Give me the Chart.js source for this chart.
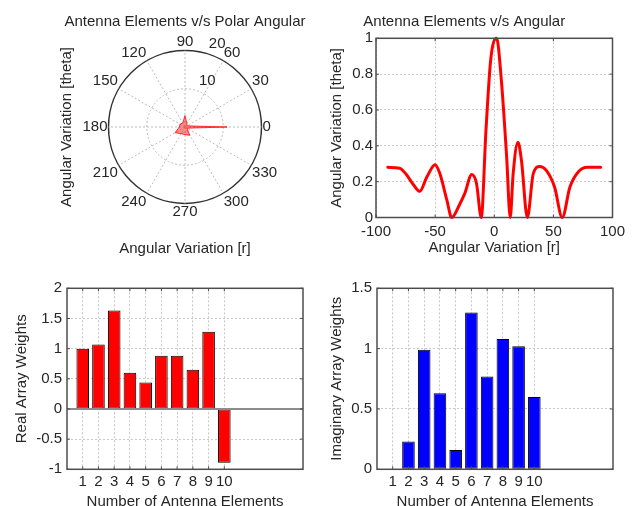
<!DOCTYPE html>
<html>
<head>
<meta charset="utf-8">
<script src="https://cdn.jsdelivr.net/npm/chart.js@4.4.0/dist/chart.umd.min.js"></script>
<style>
  body { margin: 0; background: #fff; width: 633px; height: 506px; overflow: hidden; position: relative; }
  canvas { position: absolute; }
</style>
</head>
<body>
<canvas id="polarChart" width="316" height="262" style="left:0;top:0"></canvas>
<canvas id="patternChart" width="317" height="262" style="left:316px;top:0"></canvas>
<canvas id="realChart" width="316" height="250" style="left:0;top:262px"></canvas>
<canvas id="imagChart" width="317" height="250" style="left:316px;top:262px"></canvas>
<script>
// values
var polarAngles = ['90', '60', '30', '0', '330', '300', '270', '240', '210', '180', '150', '120'];
var polarPattern = [3, 1, 0.6, 11, 0.6, 2.5, 2, 2, 3, 1.5, 1.5, 1.2];
var polarRings = [10, 20];

var angleDeg = [-90, -80, -75, -68, -63, -57, -50, -46, -40, -36, -29, -25, -19, -15, -11, -7, -3, 2, 6, 10.5,
                13.5, 16, 20, 23, 28, 33, 38.5, 44, 51, 57.5, 64, 71, 79, 90];
var patternGain = [0.28, 0.275, 0.245, 0.18, 0.146, 0.226, 0.295, 0.245, 0.095, 0.0, 0.077, 0.133, 0.24, 0.19, 0.0, 0.487, 0.88, 1.0, 0.767, 0.337,
                   0.0, 0.245, 0.42, 0.319, 0.0, 0.245, 0.285, 0.263, 0.17, 0.0, 0.17, 0.254, 0.28, 0.28];

var elements = [1, 2, 3, 4, 5, 6, 7, 8, 9, 10];
var realWeights = [1.0, 1.07, 1.63, 0.6, 0.44, 0.88, 0.88, 0.65, 1.28, -0.89];
var imagWeights = [0, 0.23, 0.99, 0.63, 0.16, 1.3, 0.77, 1.08, 1.02, 0.6];

var FONT = "'Liberation Sans', Arial, Helvetica, sans-serif";
Chart.defaults.font.family = FONT;
Chart.defaults.font.size = 15;
Chart.defaults.color = '#262626';
Chart.defaults.animation = false;
Chart.defaults.responsive = false;
Chart.defaults.plugins.legend.display = false;
Chart.defaults.plugins.tooltip.enabled = false;

function shortNum(v) { return String(Math.round(v * 10) / 10); }

// matlab style box round the axes, with small inward ticks
var frame = {
  id: 'frame',
  afterDatasetsDraw: function(chart, args, opts) {
    var a = chart.chartArea, c = chart.ctx, xs = chart.scales.x, ys = chart.scales.y;
    c.save();
    if (opts.baseline) {
      var y0 = ys.getPixelForValue(0);
      c.strokeStyle = '#8c8c8c';
      c.lineWidth = 2;
      c.beginPath(); c.moveTo(a.left, y0); c.lineTo(a.right, y0); c.stroke();
    }
    c.strokeStyle = '#4d4d4d';
    c.lineWidth = 1;
    c.beginPath();
    xs.ticks.forEach(function(t) {
      var x = xs.getPixelForValue(t.value);
      c.moveTo(x, a.top); c.lineTo(x, a.top + 3);
      c.moveTo(x, a.bottom); c.lineTo(x, a.bottom - 3);
    });
    ys.ticks.forEach(function(t) {
      var y = ys.getPixelForValue(t.value);
      c.moveTo(a.left, y); c.lineTo(a.left + 3, y);
      c.moveTo(a.right, y); c.lineTo(a.right - 3, y);
    });
    c.stroke();
    c.lineWidth = 1.5;
    c.strokeRect(a.left, a.top, a.right - a.left, a.bottom - a.top);
    c.restore();
  }
};

// polar plot: left label and radius tick labels
var polarText = {
  id: 'polarText',
  afterDraw: function(chart, args, opts) {
    var c = chart.ctx, a = chart.chartArea, r = chart.scales.r;
    c.save();
    c.font = '15px ' + FONT;
    c.fillStyle = '#262626';
    c.textAlign = 'left';
    c.textBaseline = 'bottom';
    var ang = 75 * Math.PI / 180;
    polarRings.forEach(function(v) {
      var d = r.getDistanceFromCenterForValue(v) + 4;
      c.fillText(String(v), r.xCenter + d * Math.cos(ang) + 3, r.yCenter - d * Math.sin(ang) + 2);
    });
    c.translate(opts.x, (a.top + a.bottom) / 2);
    c.rotate(-Math.PI / 2);
    c.textAlign = 'center';
    c.textBaseline = 'middle';
    c.fillText(opts.text, 0, 0);
    c.restore();
  }
};

new Chart('polarChart', {
  type: 'radar',
  data: {
    labels: polarAngles,
    datasets: [{
      data: polarPattern,
      borderColor: 'rgba(255,0,0,0.75)',
      backgroundColor: 'rgba(255,0,0,0.45)',
      fill: true,
      borderWidth: 1,
      pointRadius: 0
    }]
  },
  options: {
    layout: { padding: { left: 64, right: 10, top: 0, bottom: 0 } },
    scales: {
      r: {
        min: 0, max: 20,
        ticks: { display: false, stepSize: 10 },
        grid: {
          circular: true,
          color: function(c) { return c.tick && c.tick.value === 20 ? '#333' : '#bdbdbd'; },
          lineWidth: function(c) { return c.tick && c.tick.value === 20 ? 1.5 : 1; }
        },
        border: { dash: function(c) { return c.tick && c.tick.value === 20 ? [] : [2, 2]; } },
        angleLines: { color: '#bdbdbd', borderDash: [2, 2] },
        pointLabels: { padding: 1, font: { size: 15, lineHeight: 1 }, color: '#262626' }
      }
    },
    plugins: {
      title: { display: true, text: 'Antenna Elements v/s Polar Angular', font: { size: 15, weight: 'normal' }, padding: { top: 12.5, bottom: 4 } },
      subtitle: { display: true, position: 'bottom', text: 'Angular Variation [r]', font: { size: 15 }, color: '#262626', padding: { top: 20.5, bottom: 4 } },
      polarText: { x: 67, text: 'Angular Variation [theta]' }
    }
  },
  plugins: [polarText]
});

new Chart('patternChart', {
  type: 'line',
  data: {
    datasets: [{
      data: angleDeg.map(function(x, i) { return { x: x, y: patternGain[i] }; }),
      borderColor: '#ff0000',
      borderWidth: 3,
      pointRadius: 0,
      fill: false,
      cubicInterpolationMode: 'monotone',
      borderCapStyle: 'round',
      borderJoinStyle: 'round',
      clip: false
    }]
  },
  options: {
    layout: { padding: { left: 0, right: 20.5, top: 0, bottom: 0 } },
    scales: {
      x: {
        type: 'linear', min: -100, max: 100,
        ticks: { stepSize: 50, padding: 5, callback: shortNum },
        grid: { color: '#c8c8c8', drawTicks: false },
        border: { display: false, dash: [2, 2] },
        title: { display: true, text: 'Angular Variation [r]', padding: { top: 0, bottom: 5 } },
        afterFit: function(s) { s.height = 44.5; }
      },
      y: {
        min: 0, max: 1,
        ticks: { stepSize: 0.2, padding: 3, callback: shortNum },
        grid: { color: '#c8c8c8', drawTicks: false },
        border: { display: false, dash: [2, 2] },
        title: { display: true, text: 'Angular Variation [theta]', padding: { top: 12, bottom: 0 } },
        afterFit: function(s) { s.width = 60; }
      }
    },
    plugins: {
      title: { display: true, text: 'Antenna Elements v/s Angular', font: { size: 15, weight: 'normal' }, padding: { top: 13, bottom: 7.3 } }
    }
  },
  plugins: [frame]
});

function barChart(id, values, color, yMin, yMax, yLabel, yWidth, padRight, titleX, baseline) {
  return new Chart(id, {
    type: 'bar',
    data: {
      datasets: [{
        data: elements.map(function(x, i) { return { x: x, y: values[i] }; }),
        backgroundColor: color,
        borderColor: '#000',
        borderWidth: 1,
        borderSkipped: false,
        barPercentage: 0.8,
        categoryPercentage: 1
      }]
    },
    options: {
      layout: { padding: { left: 0, right: padRight, top: 26.3, bottom: 0 } },
      scales: {
        x: {
          type: 'linear', min: 0, max: 15, offset: false,
          afterBuildTicks: function(s) { s.ticks = elements.map(function(v) { return { value: v }; }); },
          ticks: { padding: 4 },
          grid: { color: '#c8c8c8', drawTicks: false, offset: false },
          border: { display: false, dash: [2, 2] },
          title: { display: true, text: 'Number of Antenna Elements', padding: { top: 0, bottom: 1 } },
          afterFit: function(s) { s.height = 42.7; }
        },
        y: {
          min: yMin, max: yMax,
          ticks: { stepSize: 0.5, padding: 5, callback: shortNum },
          grid: { color: '#c8c8c8', drawTicks: false },
          border: { display: false, dash: [2, 2] },
          title: { display: true, text: yLabel, padding: { top: titleX, bottom: 0 } },
          afterFit: function(s) { s.width = yWidth; }
        }
      },
      plugins: { frame: { baseline: baseline } }
    },
    plugins: [frame]
  });
}

barChart('realChart', realWeights, '#ff0000', -1, 2, 'Real Array Weights', 67, 13, 12.7, true);
barChart('imagChart', imagWeights, '#0000ff', 0, 1.5, 'Imaginary Array Weights', 61, 20, 12, false);
</script>
</body>
</html>
